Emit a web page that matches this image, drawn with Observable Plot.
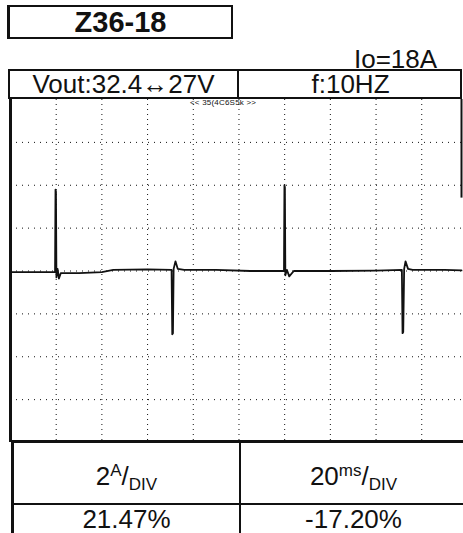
<!DOCTYPE html>
<html>
<head>
<meta charset="utf-8">
<script src="https://cdn.jsdelivr.net/npm/d3@7"></script>
<script src="https://cdn.jsdelivr.net/npm/@observablehq/plot@0.6"></script>
<style>
  body { margin: 0; background: #fff; font-family: "Liberation Sans", Arial, sans-serif; color: #111; }
  #wrap { position: relative; width: 463px; height: 533px; overflow: hidden; background: #fff; }
  .abs { position: absolute; box-sizing: border-box; }
  #title { left: 7px; top: 5px; width: 226px; height: 34px; border: 2px solid #111; border-left-width: 3px; font-weight: bold; font-size: 29px; text-align: center; line-height: 30px; }
  #io { left: 354px; top: 46px; font-size: 26px; line-height: 26px; }
  #hdr { left: 8px; top: 69px; width: 454px; height: 30px; border: 2px solid #111; }
  .cell { position: absolute; top: 0; height: 26px; text-align: center; font-size: 26px; line-height: 26px; white-space: nowrap; }
  #plotbox { left: 0; top: 97px; }
  #tiny { left: 190px; top: 99px; font-size: 8px; line-height: 8px; letter-spacing: 0.2px; color: #111; }
  #tbl { left: 11px; top: 440px; width: 460px; height: 100px; border-top: 3px solid #111; border-left: 3px solid #111; }
  .tc { position: absolute; text-align: center; font-size: 26px; line-height: 26px; white-space: nowrap; }
  sup { font-size: 17px; vertical-align: 9px; line-height: 0; }
  sub { font-size: 17px; vertical-align: -5px; line-height: 0; }
</style>
</head>
<body>
<div id="wrap">
  <div id="title" class="abs"></div>
  <div id="io" class="abs"></div>
  <div id="hdr" class="abs">
    <div class="cell" id="h1" style="left:0;width:227px;border-right:2px solid #111;"></div>
    <div class="cell" id="h2" style="left:229px;width:223px;"></div>
  </div>
  <div id="plotbox" class="abs"></div>
  <div id="tiny" class="abs"></div>
  <div id="tbl" class="abs">
    <div style="position:absolute;left:225px;top:0;width:2px;height:100px;background:#111;"></div>
    <div style="position:absolute;left:0;top:60px;width:460px;height:2px;background:#111;"></div>
    <div class="tc" id="t1" style="left:0;width:225px;top:20px;"></div>
    <div class="tc" id="t2" style="left:227px;width:225px;top:20px;"></div>
    <div class="tc" id="t3" style="left:0;width:225px;top:63px;"></div>
    <div class="tc" id="t4" style="left:227px;width:225px;top:63px;"></div>
  </div>
</div>
<script>
// ---- texts ----
const titleText = "Z36-18";
const ioText = "Io=18A";
const headerTexts = ["Vout:32.4\u219427V", "f:10HZ"];
const markerText = "<< 35(4C6S5k >>";
const scaleTexts = ["2<sup>A</sup>/<sub>DIV</sub>", "20<sup>ms</sup>/<sub>DIV</sub>"];
const resultTexts = ["21.47%", "-17.20%"];

// ---- scope settings (2 A/div, 20 ms/div) ----
const xGrid = [20, 40, 60, 80, 100, 120, 140, 160, 180];
const yGrid = [-6, -4, -2, 0, 2, 4, 6];

// ---- trace: time (ms), current (A) ----
const traceT = [0, 10, 19.5, 19.7, 19.9, 20.1, 20.6, 21.2, 22, 30, 40, 45, 60, 70.5, 70.8, 71.1, 71.4, 72.2, 73.2, 76, 90, 105, 119.7, 119.9, 120.1, 120.3, 121, 122, 124, 140, 160, 171.3, 171.6, 171.9, 172.3, 172.9, 174, 176, 190, 197.4];
const traceI = [-0.05, -0.05, -0.05, 3.8, 3.7, -0.3, 0.1, -0.35, -0.1, -0.1, -0.05, 0.05, 0.08, 0.05, -2.95, -2.9, 0.1, 0.45, 0.1, 0.05, 0.05, 0.0, 0.0, 4.0, 3.9, -0.2, 0.05, -0.25, 0.0, 0.0, 0.02, 0.05, -2.9, -2.85, 0.1, 0.45, 0.1, 0.05, 0.05, 0.03];

const trace = traceT.map((t, k) => ({t, i: traceI[k]}));

document.getElementById("title").textContent = titleText;
document.getElementById("io").textContent = ioText;
document.getElementById("h1").textContent = headerTexts[0];
document.getElementById("h2").textContent = headerTexts[1];
document.getElementById("tiny").textContent = markerText;
document.getElementById("t1").innerHTML = scaleTexts[0];
document.getElementById("t2").innerHTML = scaleTexts[1];
document.getElementById("t3").textContent = resultTexts[0];
document.getElementById("t4").textContent = resultTexts[1];

const xMax = 197.4;
const chart = Plot.plot({
  width: 463,
  height: 345,
  marginLeft: 10,
  marginRight: 2,
  marginTop: 2,
  marginBottom: 0,
  x: {domain: [0, xMax], axis: null},
  y: {domain: [-8, 8], axis: null},
  style: {background: "transparent", overflow: "visible"},
  marks: [
    Plot.ruleX(xGrid, {stroke: "#111", strokeWidth: 1, strokeDasharray: "1,4"}),
    Plot.ruleY(yGrid, {stroke: "#111", strokeWidth: 1, strokeDasharray: "1,5"}),
    Plot.ruleX([0], {stroke: "#111", strokeWidth: 3}),
    Plot.ruleX([xMax], {y1: 8, y2: 3.4, stroke: "#111", strokeWidth: 2}),
    Plot.line(trace, {x: "t", y: "i", stroke: "#111", strokeWidth: 1.8, curve: "linear"})
  ]
});
document.getElementById("plotbox").appendChild(chart);
</script>
</body>
</html>
